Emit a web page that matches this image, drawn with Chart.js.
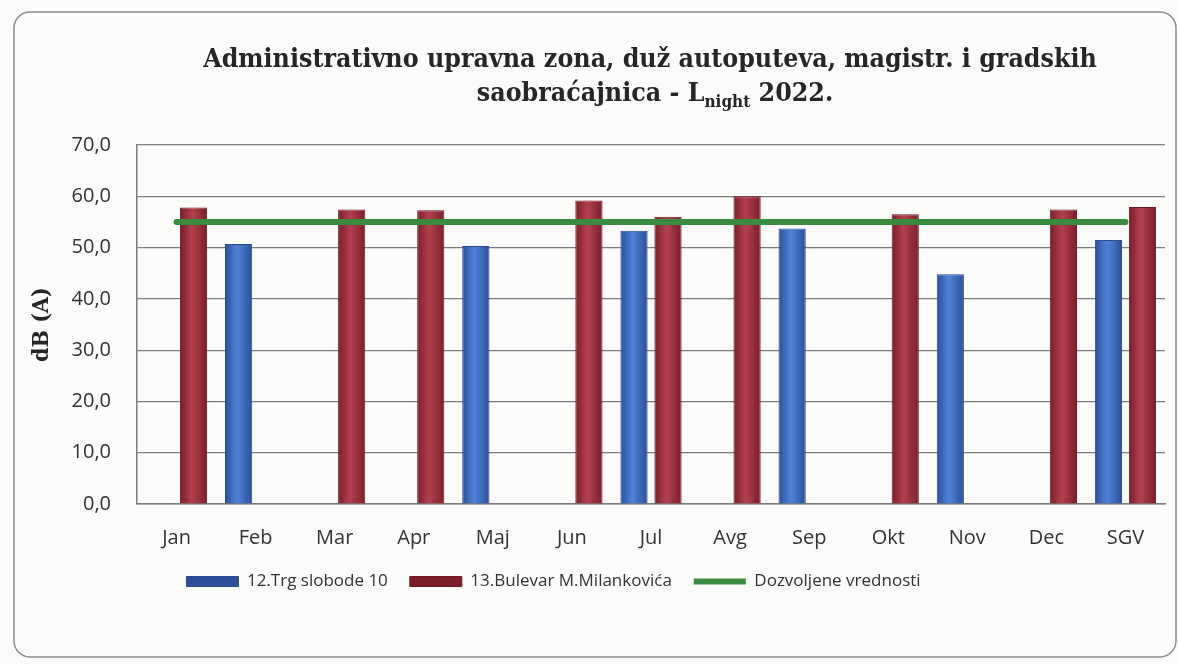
<!DOCTYPE html>
<html>
<head>
<meta charset="utf-8">
<script src="https://cdn.jsdelivr.net/npm/chart.js@4/dist/chart.umd.min.js"></script>
<style>
  html, body { margin: 0; padding: 0; background: #fbfbfa; }
  #wrap { width: 1178px; height: 665px; }
</style>
</head>
<body>
<div id="wrap"><canvas id="c" width="1178" height="665"></canvas></div>
<script>
// ---- data ----
const categories = ['Jan','Feb','Mar','Apr','Maj','Jun','Jul','Avg','Sep','Okt','Nov','Dec','SGV'];
const trgSlobode = [null, 50.7, null, null, 50.3, null, 53.3, null, 53.7, null, 44.8, null, 51.5];
const bulevar    = [57.8, null, 57.4, 57.3, null, 59.2, 56.0, 60.0, null, 56.5, null, 57.4, 57.9];
const dozvoljene = [55, 55, 55, 55, 55, 55, 55, 55, 55, 55, 55, 55, 55];
const seriesNames = ['12.Trg slobode 10', '13.Bulevar M.Milankovića', 'Dozvoljene vrednosti'];
const yTickLabels = ['0,0','10,0','20,0','30,0','40,0','50,0','60,0','70,0'];
const yAxisTitle = 'dB (A)';
const titleLine1 = 'Administrativno upravna zona, duž autoputeva, magistr. i gradskih';
const titleLine2 = ['saobraćajnica - L', 'night', ' 2022.'];

const sansFont = '"Open Sans", "Noto Sans", sans-serif';
const serifFont = '"DejaVu Serif Condensed", "DejaVu Serif", "Liberation Serif", serif';

function barGradient(ctx, edge, mid) {
  const chart = ctx.chart;
  const xs = chart.scales && chart.scales.x;
  if (!chart.chartArea || !xs || ctx.dataIndex === undefined) return mid;
  const c0 = xs.getPixelForValue(0), c1 = xs.getPixelForValue(1);
  const catW = c1 - c0;
  const slot = catW * 0.86 / 2;
  const center = xs.getPixelForValue(ctx.dataIndex) + (ctx.datasetIndex - 0.5) * slot;
  const w = slot * 0.8;
  const g = chart.ctx.createLinearGradient(center - w / 2, 0, center + w / 2, 0);
  g.addColorStop(0, edge);
  g.addColorStop(0.45, mid);
  g.addColorStop(1, edge);
  return g;
}

const decor = {
  id: 'decor',
  afterLayout(chart) {
    const lg = chart.legend;
    if (lg) { lg.left -= 34; lg.right -= 34; }
  },
  beforeDraw(chart) {
    const ctx = chart.ctx;
    ctx.save();
    ctx.fillStyle = '#fbfbfa';
    ctx.fillRect(0, 0, chart.width, chart.height);
    ctx.strokeStyle = '#8c8c8c';
    ctx.lineWidth = 1.5;
    ctx.beginPath();
    ctx.roundRect(14, 12, 1162, 645, 16);
    ctx.stroke();
    ctx.restore();
  },
  afterDraw(chart) {
    const ctx = chart.ctx;
    ctx.save();
    ctx.fillStyle = '#262626';
    ctx.textBaseline = 'alphabetic';
    ctx.font = 'bold 26.5px ' + serifFont;
    ctx.textAlign = 'center';
    ctx.fillText(titleLine1, 650, 67);
    // second line with subscript
    ctx.textAlign = 'left';
    const mainF = 'bold 26.5px ' + serifFont, subF = 'bold 17px ' + serifFont;
    ctx.font = mainF; const w0 = ctx.measureText(titleLine2[0]).width;
    ctx.font = subF;  const w1 = ctx.measureText(titleLine2[1]).width;
    ctx.font = mainF; const w2 = ctx.measureText(titleLine2[2]).width;
    let x = 655 - (w0 + w1 + w2) / 2;
    const y = 101;
    ctx.font = mainF; ctx.fillText(titleLine2[0], x, y); x += w0;
    ctx.font = subF;  ctx.fillText(titleLine2[1], x, y + 6); x += w1;
    ctx.font = mainF; ctx.fillText(titleLine2[2], x, y);
    ctx.restore();
  }
};

new Chart(document.getElementById('c'), {
  data: {
    labels: categories,
    datasets: [
      {
        type: 'bar', label: seriesNames[0], data: trgSlobode, order: 1,
        backgroundColor: ctx => barGradient(ctx, '#2c4f98', '#4f82d8'),
        borderColor: '#2a4a8c', borderWidth: 1, pointStyle: 'rect',
        categoryPercentage: 0.86, barPercentage: 0.8
      },
      {
        type: 'bar', label: seriesNames[1], data: bulevar, order: 1,
        backgroundColor: ctx => barGradient(ctx, '#7a1e2a', '#b3404e'),
        borderColor: '#6e1a25', borderWidth: 1, pointStyle: 'rect',
        categoryPercentage: 0.86, barPercentage: 0.8
      },
      {
        type: 'line', label: seriesNames[2], data: dozvoljene, order: 0,
        borderColor: '#3a8a40', backgroundColor: '#3a8a40',
        borderWidth: 6, pointRadius: 0, pointStyle: 'line', tension: 0, borderCapStyle: 'round'
      }
    ]
  },
  plugins: [decor],
  options: {
    responsive: false,
    animation: false,
    devicePixelRatio: 1,
    layout: { padding: { left: 10, right: 13, top: 145, bottom: 65 } },
    plugins: {
      title: { display: false },
      tooltip: { enabled: false },
      legend: {
        position: 'bottom',
        labels: {
          font: { family: sansFont, size: 17 },
          color: '#333333',
          usePointStyle: true, pointStyleWidth: 52,
          boxWidth: 52, boxHeight: 10,
          padding: 22,
          sort: (a, b) => a.datasetIndex - b.datasetIndex
        }
      }
    },
    scales: {
      x: {
        grid: { display: false, drawTicks: false },
        border: { display: true, color: '#7a7a7a', width: 1.5 },
        ticks: { padding: 22, font: { family: sansFont, size: 20 }, color: '#333333', maxRotation: 0 },
        afterFit: s => { s.height = 47; }
      },
      y: {
        min: 0, max: 70,
        grid: { color: '#7c7c7c', lineWidth: 1.2, drawTicks: false },
        border: { display: true, color: '#7a7a7a', width: 1.5 },
        ticks: {
          stepSize: 10, padding: 26,
          font: { family: sansFont, size: 20 }, color: '#333333',
          callback: (v, i) => yTickLabels[i]
        },
        title: {
          display: true, text: yAxisTitle,
          font: { family: serifFont, weight: 'bold', size: 23 },
          color: '#262626', padding: { top: 18, bottom: 0 }
        },
        afterFit: s => { s.width = 127; }
      }
    }
  }
});
</script>
</body>
</html>
